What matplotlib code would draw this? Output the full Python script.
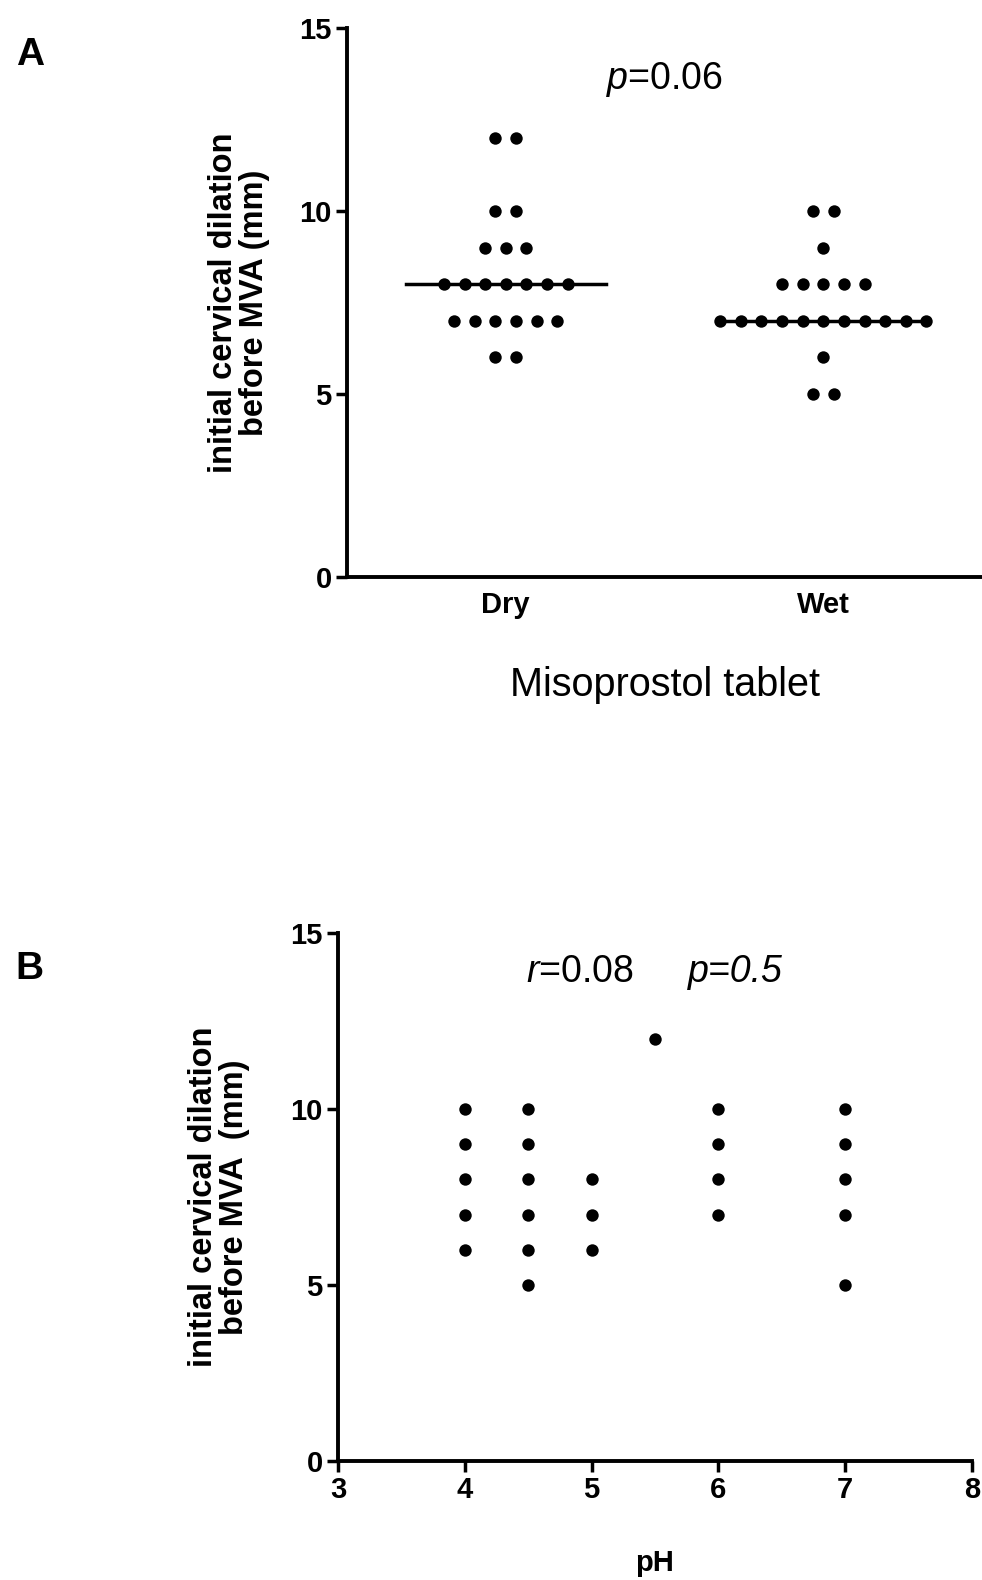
import numpy as np
import matplotlib
matplotlib.use("Agg")
import matplotlib.pyplot as plt

plt.rcParams['font.family'] = ['Liberation Sans', 'DejaVu Sans']
plt.rcParams['mathtext.fontset'] = 'custom'
plt.rcParams['mathtext.rm'] = 'Liberation Sans'
plt.rcParams['mathtext.it'] = 'Liberation Sans:italic'

# panel A: dot counts per value for each tablet group
groups = ["Dry", "Wet"]
dry_values = [12, 10, 9, 8, 7, 6]
dry_counts = [2, 2, 3, 7, 6, 2]
wet_values = [10, 9, 8, 7, 6, 5]
wet_counts = [2, 1, 5, 11, 1, 2]
medians = [8, 7]

# panel B: pH vs dilation
ph = [4, 4, 4, 4, 4,
      4.5, 4.5, 4.5, 4.5, 4.5, 4.5,
      5, 5, 5,
      5.5,
      6, 6, 6, 6,
      7, 7, 7, 7, 7]
dilation = [6, 7, 8, 9, 10,
            5, 6, 7, 8, 9, 10,
            6, 7, 8,
            12,
            7, 8, 9, 10,
            5, 7, 8, 9, 10]

fig = plt.figure(figsize=(9.82, 15.8), dpi=100)

ylab = "initial cervical dilation\nbefore MVA (mm)"
dot_s = 80
step = 0.065
tick_fs = 21

# ---- panel A
axA = fig.add_axes([0.3534, 0.6348, 0.6466, 0.3475])
for gi, (vals, cnts) in enumerate([(dry_values, dry_counts), (wet_values, wet_counts)]):
    xs, ys = [], []
    for v, n in zip(vals, cnts):
        off = (np.arange(n) - (n - 1) / 2) * step
        xs.extend(gi + off)
        ys.extend([v] * n)
    axA.scatter(xs, ys, s=dot_s, color='black', zorder=3, linewidths=0)
    axA.plot([gi - 0.315, gi + 0.315], [medians[gi]] * 2, color='black', lw=2.5, zorder=2)

axA.set_xlim(-0.5, 1.5)
axA.set_ylim(0, 15)
axA.set_yticks([0, 5, 10, 15])
axA.set_xticks([0, 1])
axA.set_xticklabels(groups, fontweight='bold', fontsize=21)
axA.set_ylabel(ylab, fontweight='bold', fontsize=23.5, linespacing=1.0, labelpad=21)
axA.set_xlabel("Misoprostol tablet", fontsize=28.5, labelpad=34)
axA.text(0.5, 13.6, r"$\mathit{p}$=0.06", fontsize=27, ha='center', va='center')
fig.text(0.016, 0.965, "A", fontsize=28, fontweight='bold', va='center')

# ---- panel B
axB = fig.add_axes([0.3442, 0.0753, 0.6456, 0.3342])
axB.scatter(ph, dilation, s=dot_s, color='black', zorder=3, linewidths=0)
axB.set_xlim(3, 8)
axB.set_ylim(0, 15)
axB.set_xticks([3, 4, 5, 6, 7, 8])
axB.set_yticks([0, 5, 10, 15])
axB.set_ylabel(ylab.replace("MVA (", "MVA  ("), fontweight='bold', fontsize=23.5,
               linespacing=1.0, labelpad=29)
axB.set_xlabel("pH", fontweight='bold', fontsize=21, labelpad=32)
axB.text(4.91, 13.9, r"$\mathit{r}$=0.08", fontsize=27, ha='center', va='center')
axB.text(6.13, 13.9, "p=0.5", fontsize=27, fontstyle='italic', ha='center', va='center')
fig.text(0.016, 0.387, "B", fontsize=28, fontweight='bold', va='center')

for ax in (axA, axB):
    for sp in ('top', 'right'):
        ax.spines[sp].set_visible(False)
    for sp in ('left', 'bottom'):
        ax.spines[sp].set_linewidth(2.8)
    ax.tick_params(width=2.5, length=8, labelsize=tick_fs, pad=3)
    for lab in ax.get_yticklabels():
        lab.set_fontweight('bold')
for lab in axB.get_xticklabels():
    lab.set_fontweight('bold')
axA.tick_params(axis='x', length=0, pad=10, labelsize=21)

fig.savefig("out.png", dpi=100)
